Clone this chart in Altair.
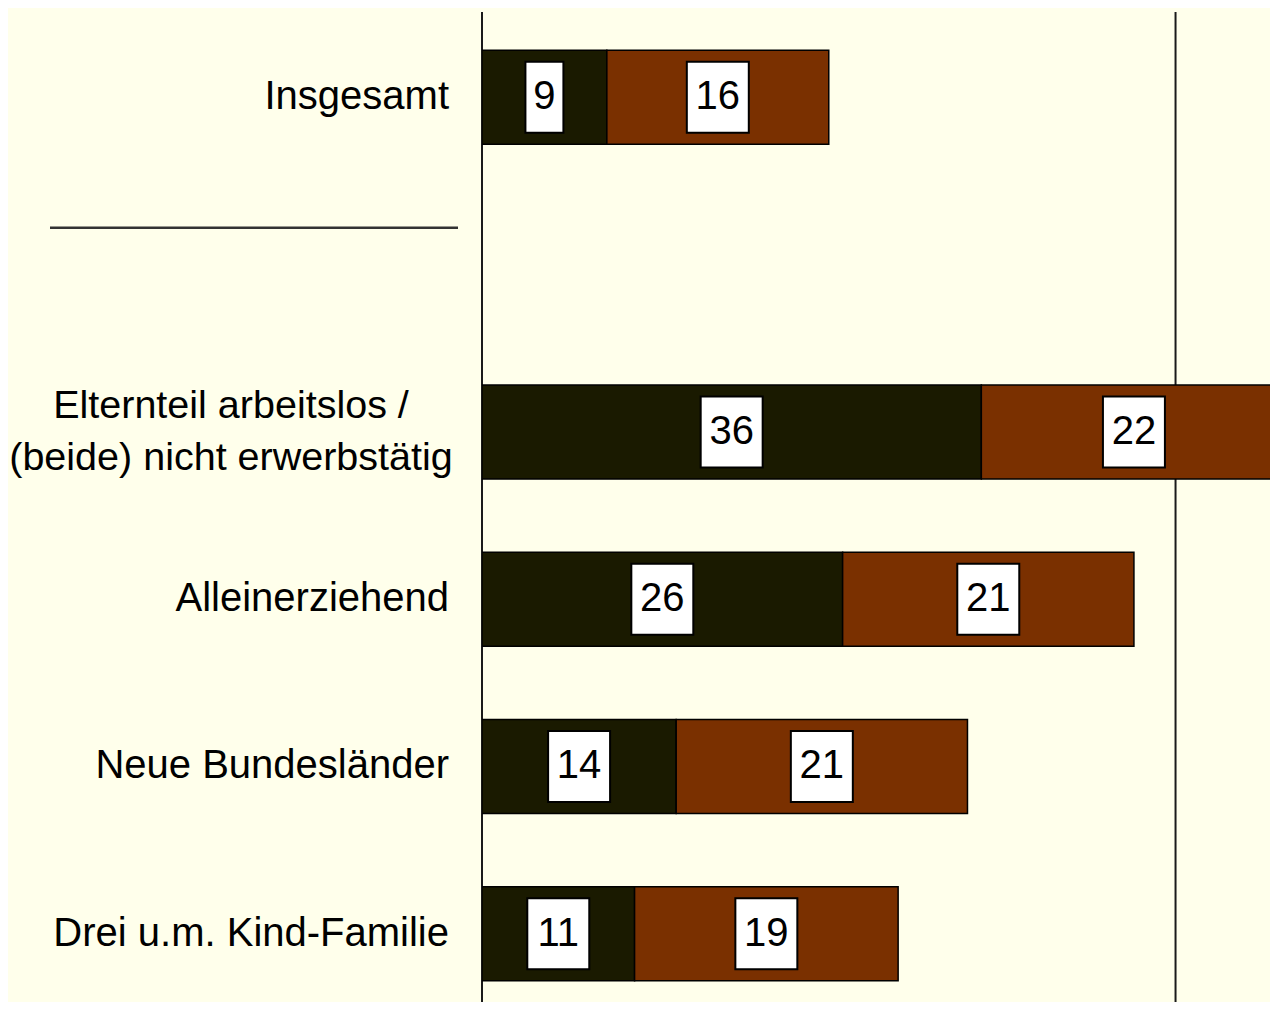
import altair as alt
import pandas as pd

# ---- data ----
categories = [
    "Insgesamt",
    "Elternteil arbeitslos /\n(beide) nicht erwerbstätig",
    "Alleinerziehend",
    "Neue Bundesländer",
    "Drei u.m. Kind-Familie",
]
row_index = [0, 2, 3, 4, 5]          # row order (row 1 is an empty separator row)
dark_values = [9, 36, 26, 14, 11]
brown_values = [16, 22, 21, 21, 19]
reference_lines = [0, 50]
separator_row = [0.78]

DARK = "#1A1A00"
BROWN = "#7A3000"
BG = "#FFFFEB"
FONT = "Liberation Sans"

rows = []
for cat, idx, d, b in zip(categories, row_index, dark_values, brown_values):
    rows.append(dict(cat=cat, idx=idx, seg="dark", start=0, end=d, value=d))
    rows.append(dict(cat=cat, idx=idx, seg="brown", start=d, end=d + b, value=b))
df = pd.DataFrame(rows)
cats_df = pd.DataFrame(dict(cat=categories, idx=row_index))

W, H = 788, 990
xscale = alt.Scale(domain=[0, 56.81], nice=False, zero=False)
yscale = alt.Scale(domain=[-0.51, 5.408], reverse=True, nice=False, zero=False)
HALF = 0.281


def X(f):
    return alt.X(f, scale=xscale, axis=None)


def Y(f):
    return alt.Y(f, scale=yscale, axis=None)


base = alt.Chart(df)

bars = base.transform_calculate(
    y0="datum.idx - %f" % HALF, y1="datum.idx + %f" % HALF
).mark_bar(stroke="black", strokeWidth=1.5, clip=True).encode(
    x=X("start:Q"),
    x2="end:Q",
    y=Y("y0:Q"),
    y2="y1:Q",
    color=alt.Color("seg:N", scale=alt.Scale(domain=["dark", "brown"], range=[DARK, BROWN]), legend=None),
)

box1 = "M-0.535,-1L0.535,-1L0.535,1L-0.535,1Z"
box2 = "M-0.873,-1L0.873,-1L0.873,1L-0.873,1Z"

mid = base.transform_calculate(
    mid="(datum.start + datum.end) / 2", digits="length(toString(datum.value))"
)

boxes1 = mid.transform_filter("datum.digits == 1").mark_point(
    shape=box1, size=5041, filled=True, fill="white", stroke="black", strokeWidth=2, opacity=1
).encode(x=X("mid:Q"), y=Y("idx:Q"))

boxes2 = mid.transform_filter("datum.digits == 2").mark_point(
    shape=box2, size=5041, filled=True, fill="white", stroke="black", strokeWidth=2, opacity=1
).encode(x=X("mid:Q"), y=Y("idx:Q"))

nums = mid.mark_text(font=FONT, fontSize=40, color="black", align="center", baseline="middle").encode(
    x=X("mid:Q"), y=Y("idx:Q"), text="value:Q"
)

labels_right = alt.Chart(cats_df).transform_filter("indexof(datum.cat, '/') < 0").mark_text(
    font=FONT, fontSize=40, color="black", align="right", baseline="middle"
).encode(x=alt.value(-33), y=Y("idx:Q"), text="cat:N")

labels_center = alt.Chart(cats_df).transform_filter("indexof(datum.cat, '/') >= 0").mark_text(
    font=FONT, fontSize=39.5, color="black", align="center", baseline="middle",
    lineBreak="\n", lineHeight=52, dy=-26
).encode(x=alt.value(-251), y=Y("idx:Q"), text="cat:N")

vlines = alt.Chart(pd.DataFrame(dict(x=reference_lines))).mark_rule(color="#1a1a1a", strokeWidth=2).encode(
    x=X("x:Q"), y=alt.value(0), y2=alt.value(H)
)

sep = alt.Chart(pd.DataFrame(dict(y=separator_row))).mark_rule(color="#333333", strokeWidth=2.5).encode(
    x=alt.value(-432), x2=alt.value(-24), y=Y("y:Q")
)

chart = alt.layer(vlines, sep, bars, boxes1, boxes2, nums, labels_right, labels_center).properties(
    width=W, height=H, background=BG,
    autosize=alt.AutoSizeParams(type="none"),
    padding={"left": 474, "top": 4, "right": 0, "bottom": 0},
).configure_view(stroke=None)

chart.save("out.html", embed_options={"renderer": "svg", "actions": False})
